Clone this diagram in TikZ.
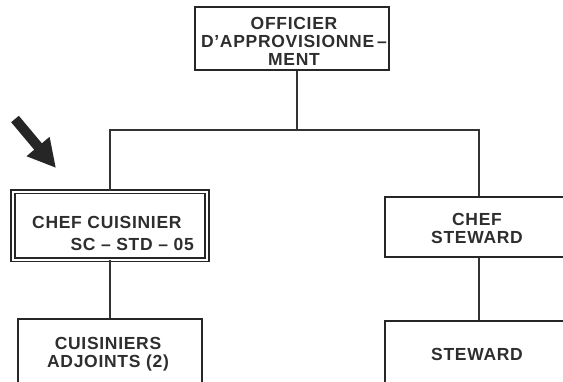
\documentclass[tikz,border=0pt]{standalone}
\usepackage{fontspec}
\setmainfont{Liberation Sans}[LetterSpace=4]
\usetikzlibrary{arrows.meta}
\begin{document}
\begin{tikzpicture}[x=1pt,y=-1pt,
  lbl/.style={font=\fontsize{17.5}{18}\selectfont\bfseries, text=black!82},
  box/.style={lbl, draw=black!85, line width=1.4pt, inner sep=0pt, align=center},
  conn/.style={draw=black!80, line width=1.3pt}]
\useasboundingbox (0,0) rectangle (563,381);
\clip (0,0) rectangle (563,381);
% top
\node[box, minimum width=194pt, minimum height=63pt] (off) at (292,38.5) {};
\node[lbl, align=center, inner sep=0pt] (offt) at (294,41) {OFFICIER\\D'APPROVISIONNE\hspace{3pt}--\\MENT};
% left column
\node[box, double, double distance=2pt, line width=1.6pt, minimum width=194pt, minimum height=68pt] (chef) at (110,225.5) {};
\node[lbl, anchor=base west, inner sep=0pt] (chefa) at (32,228.5) {CHEF CUISINIER};
\node[lbl, anchor=base east, inner sep=0pt] (chefb) at (194,250) {SC -- STD -- 05};
\node[box, minimum width=184pt, minimum height=64pt] (cuis) at (110,351) {};
\node[lbl, align=center, inner sep=0pt] (cuist) at (108,354) {CUISINIERS\\ADJOINTS (2)};
% right column
\node[box, minimum width=188pt, minimum height=60pt] (cst) at (479,227) {};
\node[lbl, align=center, inner sep=0pt] (cstt) at (477,228) {CHEF\\STEWARD};
\node[box, minimum width=188pt, minimum height=62pt] (stw) at (479,352) {};
\node[lbl, inner sep=0pt] (stwt) at (477,354) {STEWARD};
% connectors
\coordinate (j) at (297,130);
\coordinate (jl) at (110,130);
\coordinate (jr) at (479,130);
\draw[conn] ([xshift=5pt]off.south) -- (j);
\draw[conn] (chef.north) -- (jl) -- (jr) -- (cst.north);
\draw[conn] (chef.south) -- (cuis.north);
\draw[conn] (cst.south) -- (stw.north);
% pointer arrow
\coordinate (pa) at (15,119);
\coordinate (pb) at (56,168);
\draw[black!85, line width=10pt, -{Triangle[length=28pt,width=28pt]}] (pa) -- (pb);
\end{tikzpicture}
\end{document}
